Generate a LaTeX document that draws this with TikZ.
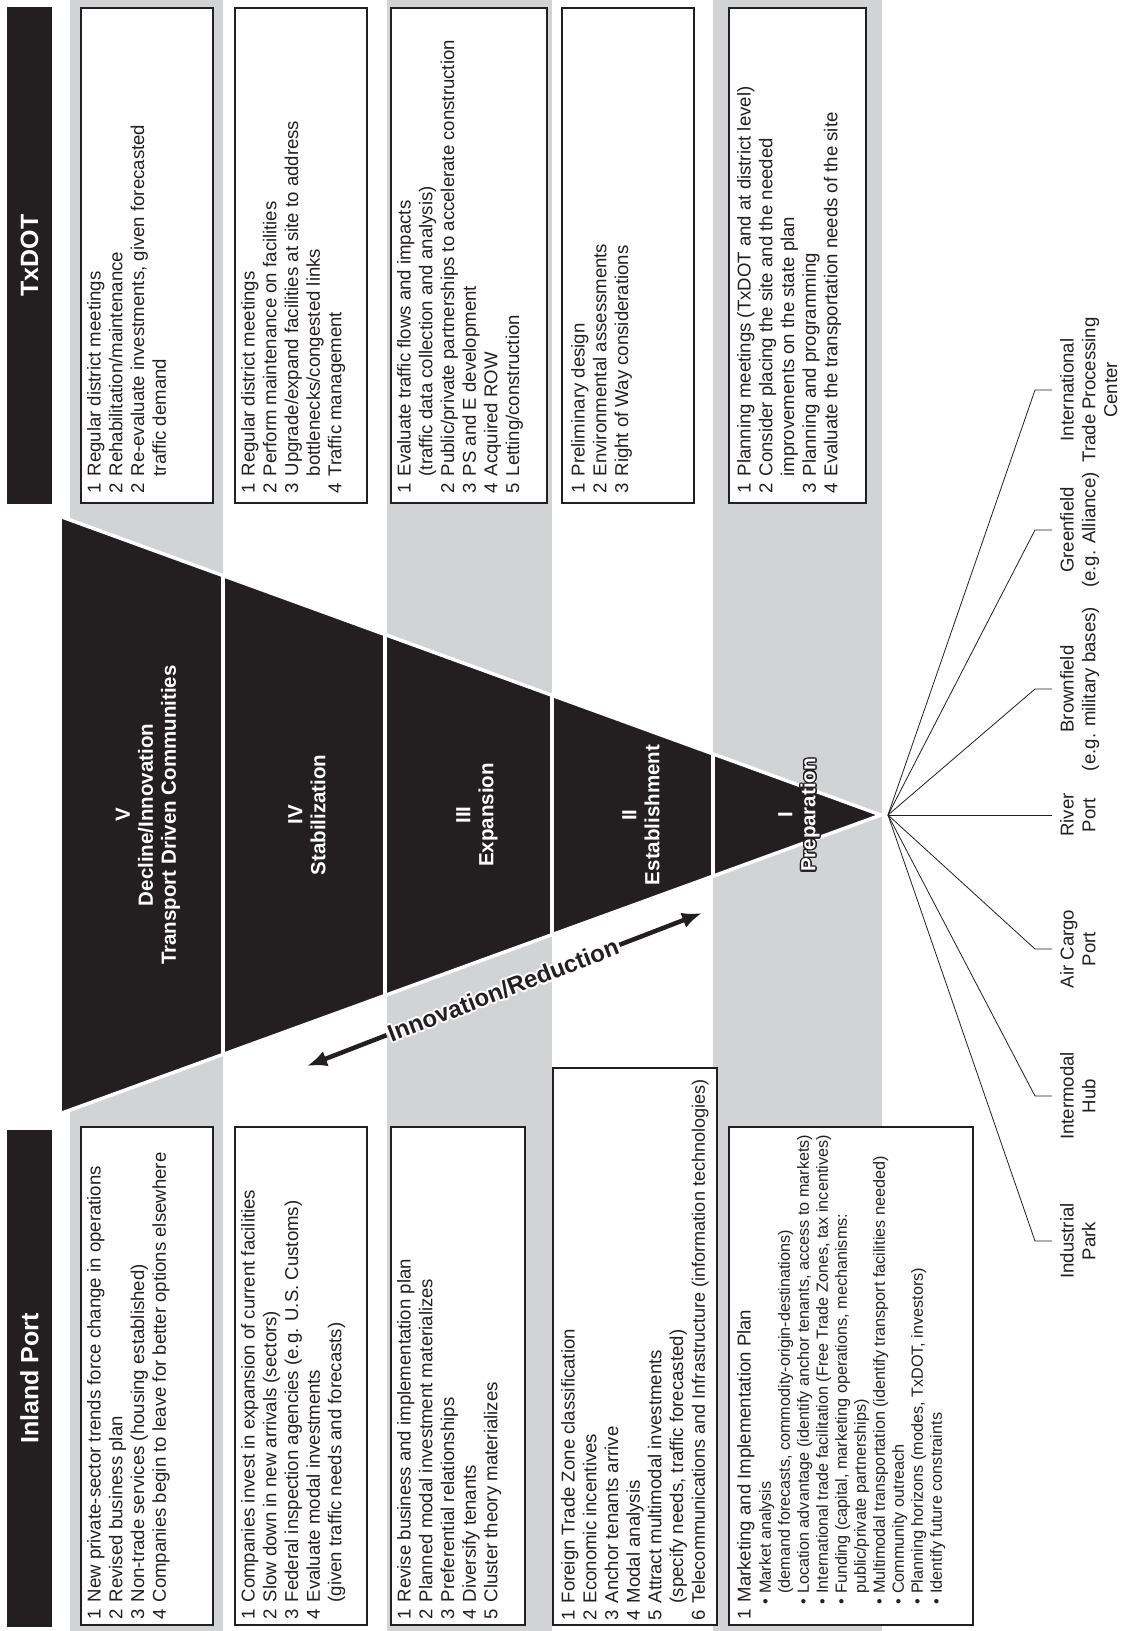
\documentclass[tikz,border=0pt]{standalone}
\usepackage{fontspec}
\setmainfont{Liberation Sans}
\usetikzlibrary{arrows.meta,calc}
\definecolor{band}{HTML}{D1D3D4}
\definecolor{ink}{HTML}{231F20}
\newcommand\itm[1]{\makebox[17.5pt][l]{#1}}
\newcommand\cnt{\hspace*{17.5pt}}
\newcommand\bul{\makebox[11pt][l]{•}}
\newcommand\bcnt{\hspace*{11pt}}
\tikzset{
  box/.style={draw=ink, line width=1.4pt, fill=white},
  body/.style={rotate=90, anchor=north west, inner sep=0pt, align=left, text=ink, font=\fontsize{18.6}{21.7}\selectfont},
  smallbody/.style={body, font=\fontsize{16.2}{19}\selectfont},
  hdr/.style={rotate=90, fill=ink, text=white, inner sep=0pt, minimum width=497pt, minimum height=45pt, font=\bfseries\fontsize{25}{30}\selectfont},
  seg/.style={rotate=90, text=white, align=center, inner sep=0pt, font=\bfseries\fontsize{20.5}{23}\selectfont},
  fanlbl/.style={rotate=90, anchor=north, align=center, inner sep=0pt, text=ink, font=\fontsize{18.6}{21.7}\selectfont},
  fan/.style={draw=ink, line width=0.8pt},
  arrlbl/.style={rotate=21.2, inner sep=2pt, text=ink, font=\bfseries\fontsize{24}{28}\selectfont},
  arr/.style={draw=ink, line width=4.5pt, -{Latex[length=20pt,width=16pt]}},
}
\begin{document}
\begin{tikzpicture}[x=1pt,y=-1pt]
\fill[white] (0,0) rectangle (1121,1631);
\useasboundingbox (0,0) rectangle (1121,1631);
% gray bands
\fill[band] (70,0) rectangle (223,1631);
\fill[band] (387,0) rectangle (552,1631);
\fill[band] (713,0) rectangle (882,1631);
% headers
\node[hdr] (hTx) at (29.5,255.5) {TxDOT};
\node[hdr] (hIP) at (29.5,1378.5) {Inland Port};
% top boxes (TxDOT)
\draw[box] (81,8) rectangle (213,503);
\draw[box] (235,8) rectangle (367,503);
\draw[box] (391,8) rectangle (547,503);
\draw[box] (562,8) rectangle (694,503);
\draw[box] (729,8) rectangle (866,503);
\node[body] (tV) at (87,494) {\itm{1}Regular district meetings\\ \itm{2}Rehabilitation/maintenance\\ \itm{2}Re-evaluate investments, given forecasted\\ \cnt traffic demand};
\node[body] (tIV) at (241,494) {\itm{1}Regular district meetings\\ \itm{2}Perform maintenance on facilities\\ \itm{3}Upgrade/expand facilities at site to address\\ \cnt bottlenecks/congested links\\ \itm{4}Traffic management};
\node[body] (tIII) at (397,494) {\itm{1}Evaluate traffic flows and impacts\\ \cnt (traffic data collection and analysis)\\ \itm{2}Public/private partnerships to accelerate construction\\ \itm{3}PS and E development\\ \itm{4}Acquired ROW\\ \itm{5}Letting/construction};
\node[body] (tII) at (571,494) {\itm{1}Preliminary design\\ \itm{2}Environmental assessments\\ \itm{3}Right of Way considerations};
\node[body] (tI) at (737,494) {\itm{1}Planning meetings (TxDOT and at district level)\\ \itm{2}Consider placing the site and the needed\\ \cnt improvements on the state plan\\ \itm{3}Planning and programming\\ \itm{4}Evaluate the transportation needs of the site};
% bottom boxes (Inland Port)
\draw[box] (81,1127) rectangle (213,1625);
\draw[box] (235,1127) rectangle (367,1625);
\draw[box] (391,1127) rectangle (525,1625);
\draw[box] (553,1068) rectangle (717,1625);
\draw[box] (729,1127) rectangle (973,1625);
\node[body] (bV) at (87,1620) {\itm{1}New private-sector trends force change in operations\\ \itm{2}Revised business plan\\ \itm{3}Non-trade services (housing established)\\ \itm{4}Companies begin to leave for better options elsewhere};
\node[body] (bIV) at (241,1620) {\itm{1}Companies invest in expansion of current facilities\\ \itm{2}Slow down in new arrivals (sectors)\\ \itm{3}Federal inspection agencies (e.g. U.S. Customs)\\ \itm{4}Evaluate modal investments\\ \cnt (given traffic needs and forecasts)};
\node[body] (bIII) at (397,1620) {\itm{1}Revise business and implementation plan\\ \itm{2}Planned modal investment materializes\\ \itm{3}Preferential relationships\\ \itm{4}Diversify tenants\\ \itm{5}Cluster theory materializes};
\node[body] (bII) at (561,1621) {\itm{1}Foreign Trade Zone classification\\ \itm{2}Economic incentives\\ \itm{3}Anchor tenants arrive\\ \itm{4}Modal analysis\\ \itm{5}Attract multimodal investments\\ \cnt (specify needs, traffic forecasted)\\ \itm{6}{\fontsize{18.1}{21.7}\selectfont Telecommunications and Infrastructure (information technologies)}};
\node[body] (bIa) at (737,1620) {\itm{1}Marketing and Implementation Plan};
\node[smallbody] (bIb) at (759,1605) {\bul Market analysis\\ \bcnt (demand forecasts, commodity-origin-destinations)\\ \bul Location advantage (identify anchor tenants, access to markets)\\ \bul International trade facilitation (Free Trade Zones, tax incentives)\\ \bul Funding (capital, marketing operations, mechanisms:\\ \bcnt public/private partnerships)\\ \bul Multimodal transportation (identify transport facilities needed)\\ \bul Community outreach\\ \bul Planning horizons (modes, TxDOT, investors)\\ \bul Identify future constraints};
% triangle
\coordinate (T) at (62,517);
\coordinate (B) at (62,1113);
\coordinate (A) at (881,815);
\fill[ink] (T) -- (A) -- (B) -- cycle;
\draw[white, line width=3.5pt] (T) -- (A) -- (B);
\foreach \t in {0.19658,0.39438,0.59829,0.79487}
  \draw[white, line width=4pt] ($(T)!\t!(A)$) -- ($(B)!\t!(A)$);
\node[seg] (sV) at (148,815) {V\\Decline/Innovation\\Transport Driven Communities};
\node[seg] (sIV) at (307,815) {IV\\Stabilization};
\node[seg] (sIII) at (477,815) {III\\Expansion};
\node[seg] (sII) at (641,815) {II\\Establishment};
\foreach \ang in {0,30,...,330}
  \node[seg, text=ink] at ($(799,815)+(\ang:1.4pt)$) {I\\Preparation};
\node[seg] (sI) at (799,815) {I\\Preparation};
% innovation / reduction arrow
\coordinate (aL) at (307,1066);
\coordinate (aR) at (702,913);
\foreach \ang in {0,30,...,330}
  \node[arrlbl, text=white] at ($(503,990)+(\ang:2pt)$) {Innovation/Reduction};
\node[arrlbl] (inno) at (503,990) {Innovation/Reduction};
\draw[arr] (inno.east) -- (aR);
\draw[arr] (inno.west) -- (aL);
% fan of site types
\coordinate (F) at (888,815);
\node[fanlbl] (fIP) at (1060,1241) {Industrial\\Park};
\node[fanlbl] (fIH) at (1060,1096) {Intermodal\\Hub};
\node[fanlbl] (fAC) at (1060,949) {Air Cargo\\Port};
\node[fanlbl] (fRP) at (1060,815) {River\\Port};
\node[fanlbl] (fBF) at (1060,689) {Brownfield\\(e.g. military bases)};
\node[fanlbl] (fGF) at (1060,530) {Greenfield\\(e.g. Alliance)};
\node[fanlbl] (fIT) at (1060,390) {International\\Trade Processing\\Center};
\foreach \n in {fIP,fIH,fAC,fBF,fGF,fIT}
  \draw[fan] (F) -- ([xshift=-25pt]\n.north) -- ([xshift=-8pt]\n.north);
\draw[fan] (F) -- ([xshift=-8pt]fRP.north);
\end{tikzpicture}
\end{document}
